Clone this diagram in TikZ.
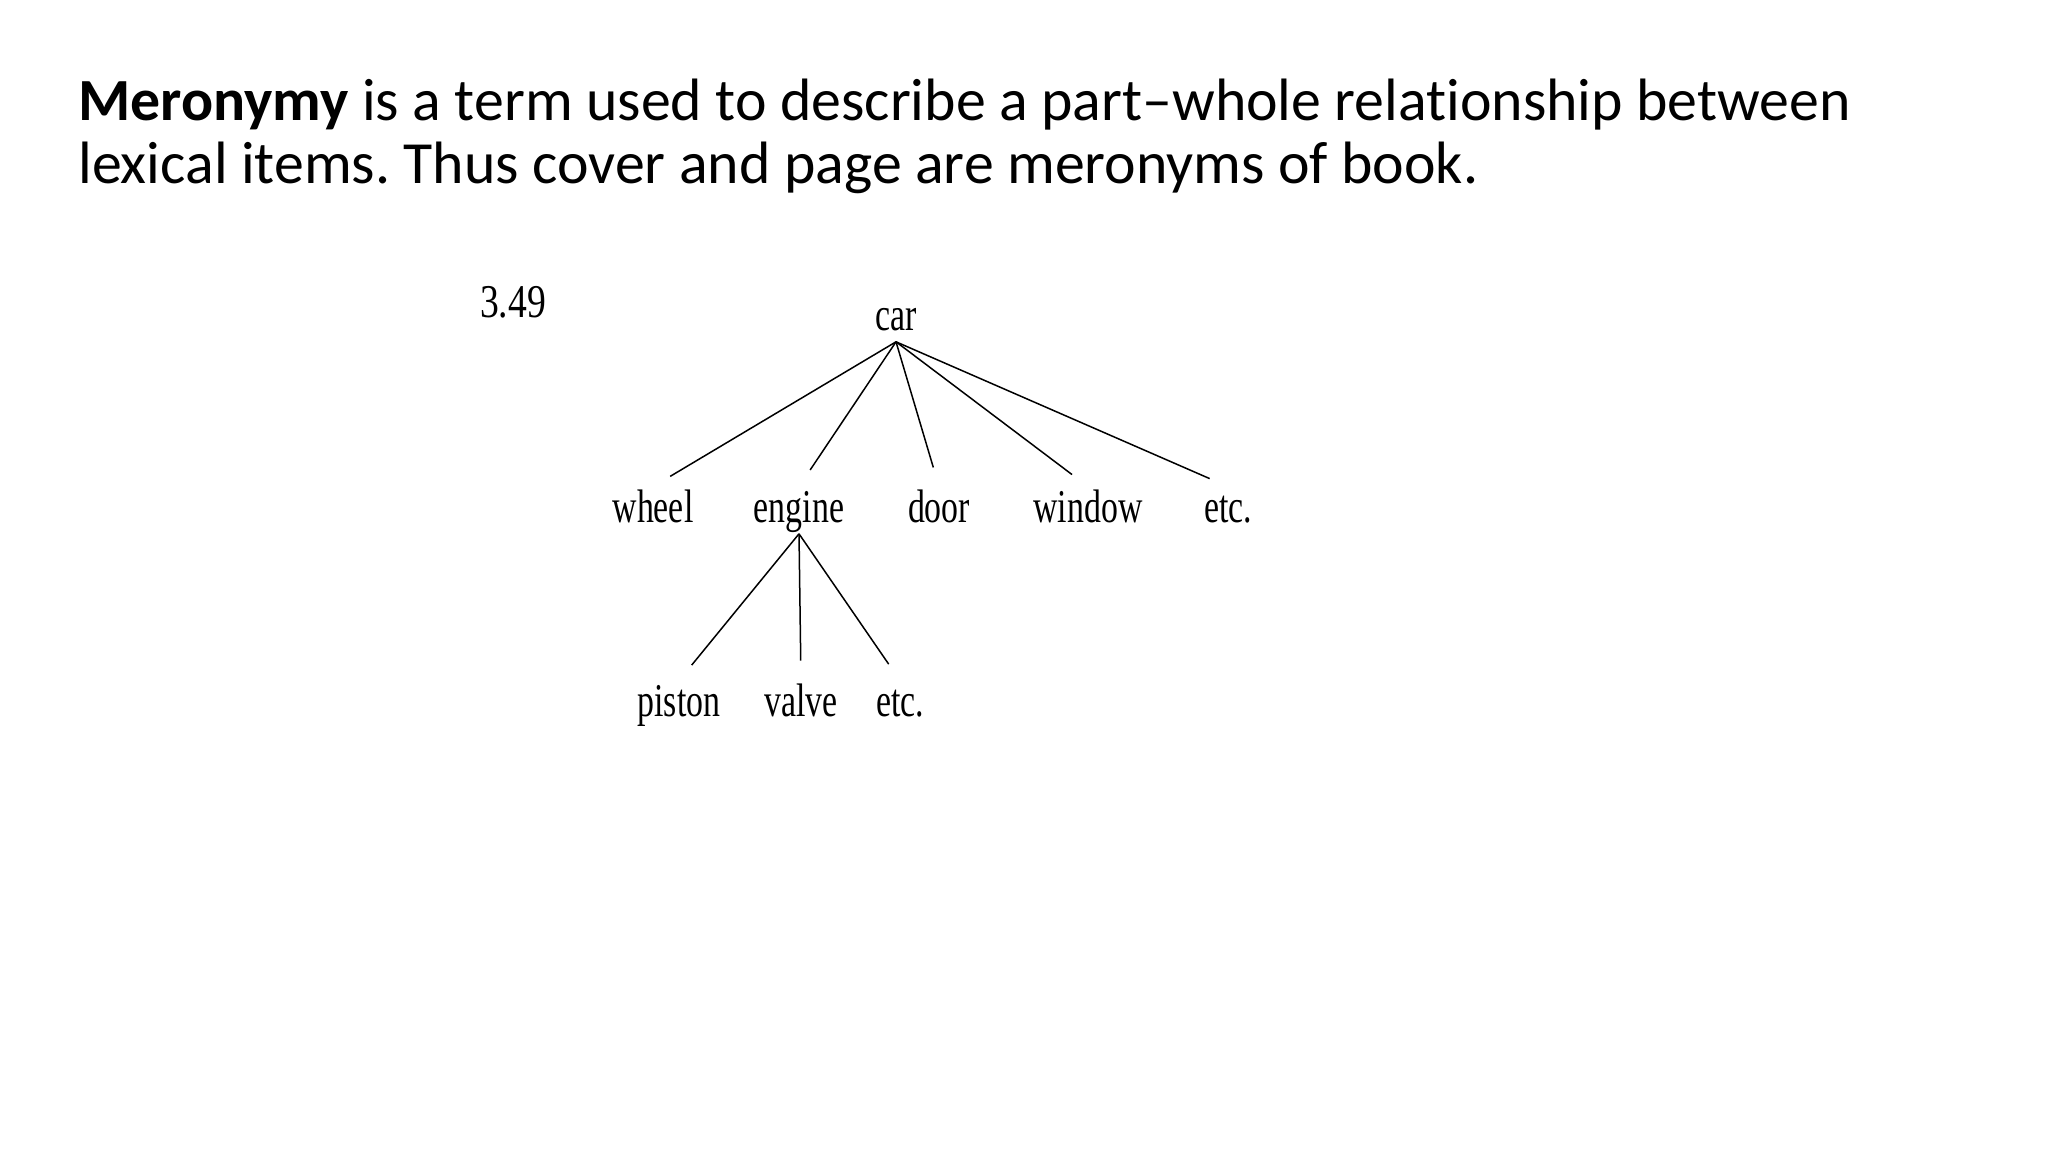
\documentclass[tikz,border=0pt]{standalone}
\usepackage{fontspec}
\setmainfont[Ligatures=NoCommon]{Carlito}
\newfontfamily\treefont[FakeStretch=0.72]{Liberation Serif}
\newfontfamily\numfont[FakeStretch=0.8]{Liberation Serif}
\frenchspacing

\begin{document}
\begin{tikzpicture}[x=0.5pt,y=-0.5pt,
    title/.style={anchor=base west,inner sep=0pt,font=\fontsize{29.9}{36}\selectfont},
    word/.style={anchor=base,inner xsep=0pt,inner ysep=1pt,text height=16.5pt,text depth=4.7pt,
      font=\treefont\fontsize{23.5}{28}\selectfont},
    branch/.style={line width=0.75pt,shorten >=10pt}]
    \useasboundingbox (0,0) rectangle (2048,1152);
    \node[title] (line1) at (78,120) {\textbf{Meronymy} is a term used to describe a part--whole relationship between};
    \node[title] (line2) at (78,183) {lexical items. Thus cover and page are meronyms of book.};
    % the tree
    \node[word,font=\numfont\fontsize{23.5}{28}\selectfont] (num) at (513,317) {3.49};
    \node[word] (car) at (896,330) {car};
    \node[word] (wheel) at (653,522) {wheel};
    \node[word] (engine) at (799,522) {engine};
    \node[word] (door) at (939,522) {door};
    \node[word] (window) at (1088,522) {window};
    \node[word] (caretc) at (1228,522) {etc.};
    \node[word] (piston) at (679,716) {piston};
    \node[word] (valve) at (801,716) {valve};
    \node[word] (engineetc) at (900,716) {etc.};
    \foreach \part in {wheel,engine,door,window,caretc}
      \draw[branch] (car.south) -- (\part.north);
    \foreach \part in {piston,valve,engineetc}
      \draw[branch] (engine.south) -- (\part.north);
\end{tikzpicture}
\end{document}
